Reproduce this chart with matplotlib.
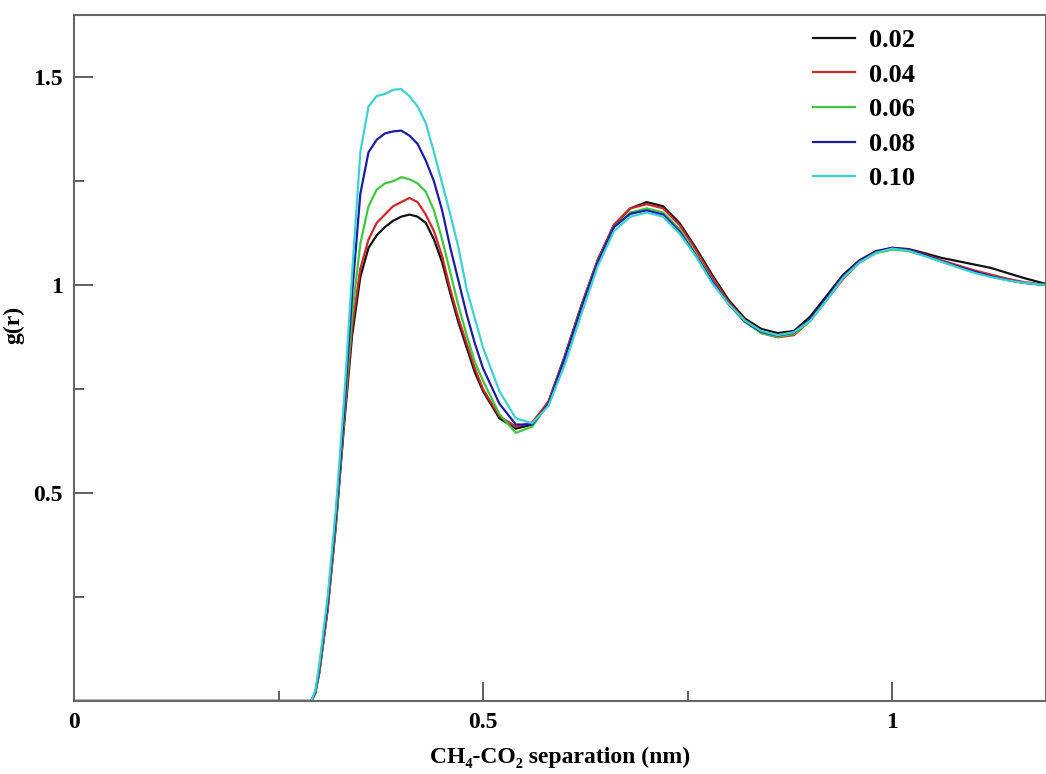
import matplotlib
matplotlib.use("Agg")
import matplotlib.pyplot as plt

# separation r (nm)
r = [0.0, 0.29, 0.295, 0.30, 0.31, 0.32, 0.33, 0.34, 0.35, 0.36, 0.37, 0.38,
     0.39, 0.40, 0.41, 0.42, 0.43, 0.44, 0.45, 0.46, 0.47, 0.48, 0.49, 0.50,
     0.52, 0.54, 0.56, 0.58, 0.60, 0.62, 0.64, 0.66, 0.68, 0.70, 0.72, 0.74,
     0.76, 0.78, 0.80, 0.82, 0.84, 0.86, 0.88, 0.90, 0.92, 0.94, 0.96, 0.98,
     1.00, 1.02, 1.04, 1.06, 1.08, 1.10, 1.12, 1.14, 1.16, 1.19]

g_002 = [0, 0, 0.02, 0.07, 0.22, 0.42, 0.66, 0.88, 1.02, 1.09, 1.12, 1.14,
         1.155, 1.165, 1.17, 1.165, 1.15, 1.11, 1.055, 0.98, 0.91, 0.85, 0.79, 0.745,
         0.68, 0.655, 0.665, 0.72, 0.83, 0.95, 1.06, 1.145, 1.185, 1.20, 1.19, 1.15,
         1.09, 1.025, 0.965, 0.92, 0.895, 0.885, 0.89, 0.925, 0.975, 1.025, 1.06, 1.082,
         1.09, 1.087, 1.077, 1.066, 1.058, 1.05, 1.042, 1.03, 1.018, 1.002]

g_004 = [0, 0, 0.02, 0.07, 0.22, 0.42, 0.67, 0.90, 1.04, 1.11, 1.15, 1.17,
         1.19, 1.20, 1.21, 1.20, 1.17, 1.13, 1.07, 0.99, 0.92, 0.86, 0.80, 0.75,
         0.685, 0.66, 0.67, 0.72, 0.83, 0.95, 1.06, 1.145, 1.185, 1.195, 1.185, 1.145,
         1.085, 1.02, 0.96, 0.915, 0.885, 0.875, 0.88, 0.915, 0.965, 1.015, 1.055, 1.078,
         1.087, 1.085, 1.074, 1.06, 1.048, 1.036, 1.026, 1.016, 1.008, 1.0]

g_006 = [0, 0, 0.02, 0.075, 0.23, 0.43, 0.68, 0.93, 1.10, 1.19, 1.23, 1.245,
         1.25, 1.26, 1.255, 1.245, 1.225, 1.18, 1.11, 1.03, 0.95, 0.88, 0.815, 0.77,
         0.69, 0.645, 0.66, 0.715, 0.825, 0.945, 1.055, 1.14, 1.175, 1.185, 1.175, 1.135,
         1.075, 1.012, 0.955, 0.912, 0.885, 0.876, 0.883, 0.915, 0.965, 1.018, 1.055, 1.077,
         1.086, 1.082, 1.071, 1.057, 1.044, 1.032, 1.022, 1.013, 1.006, 1.0]

g_008 = [0, 0, 0.02, 0.08, 0.235, 0.44, 0.69, 0.98, 1.22, 1.32, 1.35, 1.365,
         1.37, 1.372, 1.36, 1.34, 1.30, 1.25, 1.18, 1.09, 1.01, 0.93, 0.86, 0.80,
         0.715, 0.665, 0.665, 0.715, 0.825, 0.945, 1.055, 1.14, 1.172, 1.18, 1.17, 1.13,
         1.072, 1.01, 0.955, 0.913, 0.888, 0.879, 0.886, 0.918, 0.97, 1.022, 1.058, 1.08,
         1.09, 1.085, 1.073, 1.058, 1.045, 1.033, 1.022, 1.013, 1.006, 1.0]

g_010 = [0, 0, 0.025, 0.09, 0.25, 0.46, 0.72, 1.03, 1.32, 1.43, 1.455, 1.46,
         1.47, 1.472, 1.455, 1.43, 1.39, 1.32, 1.245, 1.17, 1.09, 0.99, 0.92, 0.85,
         0.745, 0.68, 0.668, 0.71, 0.81, 0.93, 1.045, 1.13, 1.165, 1.175, 1.165, 1.125,
         1.07, 1.005, 0.955, 0.915, 0.89, 0.88, 0.887, 0.915, 0.965, 1.018, 1.055, 1.078,
         1.088, 1.083, 1.07, 1.057, 1.043, 1.03, 1.02, 1.012, 1.006, 1.0]

labels = ["0.02", "0.04", "0.06", "0.08", "0.10"]
colors = ["#111111", "#d02828", "#3ec83e", "#1c1ca8", "#3cd2d2"]

font = ["Liberation Serif", "DejaVu Serif"]
plt.rcParams["font.family"] = font
plt.rcParams["font.weight"] = "bold"

fig = plt.figure(figsize=(10.46, 7.74), dpi=100)
ax = fig.add_axes([0.0707, 0.0943, 0.9293, 0.8863])

for g, lab, c in zip([g_002, g_004, g_006, g_008, g_010], labels, colors):
    ax.plot(r, g, color=c, lw=1.6, label=lab)

ax.set_xlim(0, 1.188)
ax.set_ylim(0, 1.65)
ax.set_xticks([0, 0.5, 1])
ax.set_xticklabels(["0", "0.5", "1"])
ax.set_xticks([0.25, 0.75], minor=True)
ax.set_yticks([0.5, 1, 1.5])
ax.set_yticklabels(["0.5", "1", "1.5"])
ax.set_yticks([0.25, 0.75, 1.25], minor=True)

for s in ax.spines.values():
    s.set_color("#666666")
    s.set_linewidth(1.5)
ax.tick_params(which="both", direction="in", colors="#444444", width=1.2,
               labelsize=17, labelcolor="black")
ax.tick_params(which="major", length=14, pad=8)
ax.tick_params(which="minor", length=7)
ax.tick_params(axis="y", which="both", right=False)
ax.tick_params(axis="x", which="both", top=False)

ax.set_xlabel("CH\u2084-CO\u2082 separation (nm)", fontsize=17, fontweight="bold", labelpad=10)
ax.set_ylabel("g(r)", fontsize=17, fontweight="bold")
ax.yaxis.set_label_coords(-0.051, 0.548)

leg = ax.legend(loc="upper left", bbox_to_anchor=(0.777, 0.963), bbox_transform=fig.transFigure,
                frameon=False, fontsize=19, handlelength=1.6, handletextpad=0.53,
                labelspacing=0.42, borderpad=0, borderaxespad=0)
for t in leg.get_texts():
    t.set_fontweight("bold")

fig.savefig("out.png", dpi=100)
